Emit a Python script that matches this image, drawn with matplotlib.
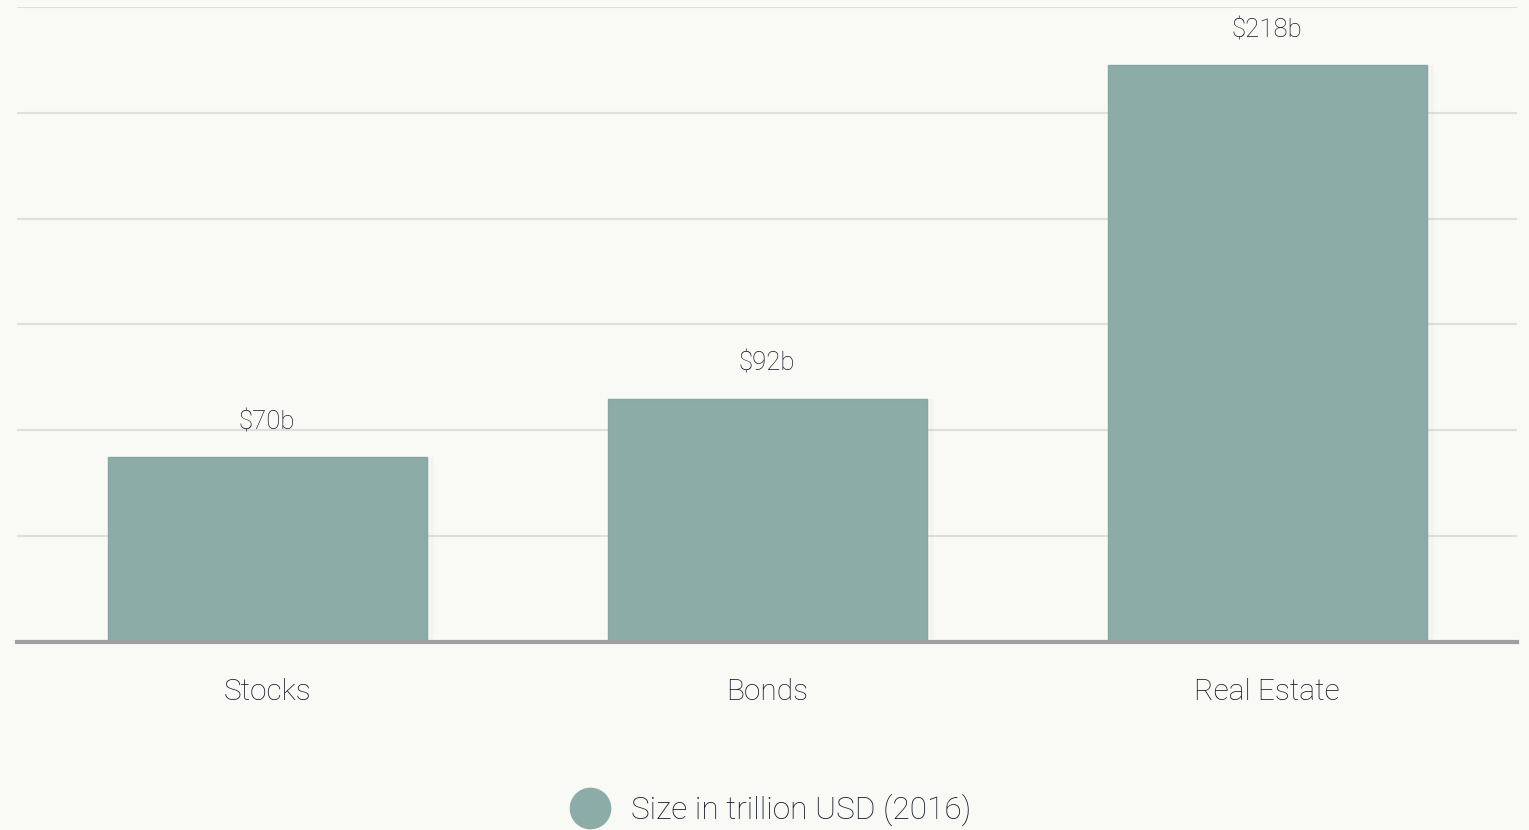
import matplotlib.pyplot as plt
from matplotlib.lines import Line2D

# data
categories = ['Stocks', 'Bonds', 'Real Estate']
values = [70, 92, 218]
value_labels = ['$70b', '$92b', '$218b']
series_name = 'Size in trillion USD (2016)'

bg = '#f9f9f5'
bar_color = '#8cada7'
text_color = '#111626'

plt.rcParams['font.family'] = ['Roboto', 'DejaVu Sans']
plt.rcParams['font.weight'] = 'light'

fig = plt.figure(figsize=(15.29, 8.30), dpi=100, facecolor=bg)
ax = fig.add_axes([17 / 1529, (830 - 642) / 830, 1500 / 1529, 635 / 830])
ax.set_facecolor(bg)

x = range(len(categories))
# faint shadow to the right of each bar
ax.bar([i + 0.015 for i in x], values, width=0.638, color='#000000', alpha=0.02, zorder=2)
bars = ax.bar(x, values, width=0.638, color=bar_color, edgecolor='#86a7a1',
              linewidth=1, zorder=3)

for b, lab in zip(bars, value_labels):
    ax.annotate(lab, (b.get_x() + b.get_width() / 2, b.get_height()),
                xytext=(0, 25), textcoords='offset points', ha='center', va='center',
                fontsize=18.5, color=text_color)

ax.set_xlim(-0.5, 2.5)
ax.set_ylim(0, 240)
ax.set_yticks(range(0, 241, 40))
ax.set_yticklabels([])
ax.yaxis.grid(True, color='#e0e0db', linewidth=1.5, zorder=0)
ax.set_axisbelow(True)
ax.tick_params(axis='y', length=0)
ax.tick_params(axis='x', length=0, pad=26, labelsize=21.5, labelcolor=text_color)
ax.set_xticks(list(x))
ax.set_xticklabels(categories)

for s in ['top', 'right', 'left']:
    ax.spines[s].set_visible(False)
ax.spines['bottom'].set_color('#a0a0a0')
ax.spines['bottom'].set_linewidth(3)
ax.spines['bottom'].set_zorder(4)

handle = Line2D([], [], marker='o', linestyle='none', markersize=29,
                markerfacecolor=bar_color, markeredgecolor=bar_color)
leg = fig.legend([handle], [series_name], loc='center', bbox_to_anchor=(0.5, (830 - 810) / 830),
                 frameon=False, handletextpad=0.3, prop={'size': 22.8})
for t in leg.get_texts():
    t.set_color(text_color)

fig.savefig('out.png', dpi=100, facecolor=bg)
